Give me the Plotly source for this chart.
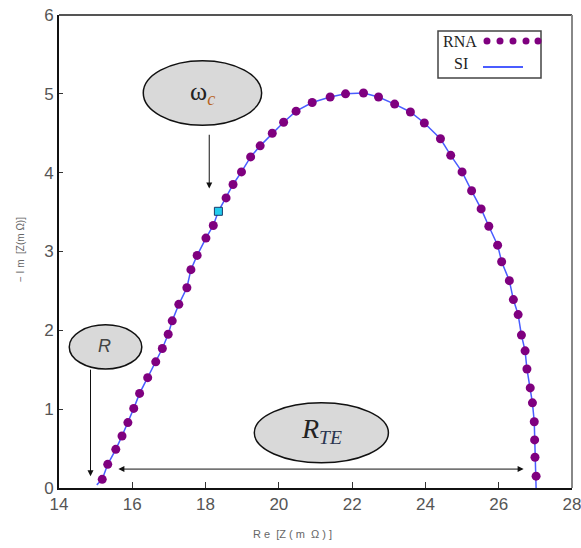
import plotly.graph_objects as go

# ---- data ----
rna_re = [15.18, 15.33, 15.55, 15.72, 15.88, 16.04, 16.20, 16.42, 16.64, 16.82,
          16.98, 17.09, 17.27, 17.49, 17.60, 17.77, 18.01, 18.21, 18.56, 18.75,
          18.98, 19.23, 19.49, 19.82, 20.13, 20.47, 20.91, 21.40, 21.82, 22.31,
          22.72, 23.16, 23.59, 23.97, 24.41, 24.69, 25.00, 25.26, 25.52, 25.73,
          25.97, 26.08, 26.29, 26.40, 26.53, 26.62, 26.72, 26.77, 26.86, 26.92,
          26.97, 26.98, 26.99, 27.02]
rna_im = [0.11, 0.30, 0.49, 0.66, 0.83, 1.01, 1.20, 1.40, 1.60, 1.77,
          1.95, 2.12, 2.33, 2.54, 2.77, 2.95, 3.17, 3.33, 3.68, 3.85,
          4.01, 4.20, 4.34, 4.50, 4.64, 4.78, 4.89, 4.96, 5.00, 5.01,
          4.96, 4.87, 4.77, 4.63, 4.43, 4.22, 4.01, 3.77, 3.54, 3.32,
          3.08, 2.87, 2.63, 2.39, 2.20, 1.94, 1.74, 1.51, 1.27, 1.08,
          0.84, 0.61, 0.39, 0.15]

si_re = [15.03, 15.18, 15.33, 15.55, 15.72, 15.88, 16.04, 16.20, 16.42, 16.64, 16.82,
         16.98, 17.09, 17.27, 17.49, 17.60, 17.77, 18.01, 18.21, 18.35, 18.56, 18.75,
         18.98, 19.23, 19.49, 19.82, 20.13, 20.47, 20.91, 21.40, 21.82, 22.31,
         22.72, 23.16, 23.59, 23.97, 24.41, 24.69, 25.00, 25.26, 25.52, 25.73,
         25.97, 26.08, 26.29, 26.40, 26.53, 26.62, 26.72, 26.77, 26.86, 26.92,
         26.97, 26.98, 26.99, 27.02, 27.02]
si_im = [0.04, 0.11, 0.30, 0.49, 0.66, 0.83, 1.01, 1.20, 1.40, 1.60, 1.77,
         1.95, 2.12, 2.33, 2.54, 2.77, 2.95, 3.17, 3.33, 3.51, 3.68, 3.85,
         4.01, 4.20, 4.34, 4.50, 4.64, 4.78, 4.89, 4.96, 5.00, 5.01,
         4.96, 4.87, 4.77, 4.63, 4.43, 4.22, 4.01, 3.77, 3.54, 3.32,
         3.08, 2.87, 2.63, 2.39, 2.20, 1.94, 1.74, 1.51, 1.27, 1.08,
         0.84, 0.61, 0.39, 0.15, 0.0]

wc_re = [18.35]
wc_im = [3.51]

x_ticks = [14, 16, 18, 20, 22, 24, 26, 28]
y_ticks = [0, 1, 2, 3, 4, 5, 6]

PURPLE = "#7f007f"
BLUE = "#4a5cff"
TICKFONT = dict(family="Liberation Sans Narrow, Liberation Sans, Arial", size=17, color="#555555")

fig = go.Figure()
fig.add_trace(go.Scatter(x=si_re, y=si_im, mode="lines", name="SI",
                         line=dict(color=BLUE, width=1.5), showlegend=False))
fig.add_trace(go.Scatter(x=rna_re, y=rna_im, mode="markers", name="RNA",
                         marker=dict(color=PURPLE, size=9), showlegend=False))
fig.add_trace(go.Scatter(x=wc_re, y=wc_im, mode="markers", name="ωc",
                         marker=dict(color="#22ccee", size=8, symbol="square",
                                     line=dict(color="#1a3a6a", width=1)),
                         showlegend=False))

L, R, T, B = 59, 9, 15, 60
W, H = 581, 548
pw, ph = W - L - R, H - T - B


def px(xp):
    return (xp - L) / pw


def py(yp):
    return (H - B - yp) / ph


shapes = []
# top and right frame lines (grey)
shapes.append(dict(type="line", xref="paper", yref="paper", x0=0, x1=1, y0=1, y1=1,
                   line=dict(color="#555555", width=2)))
shapes.append(dict(type="line", xref="paper", yref="paper", x0=1, x1=1, y0=0, y1=1,
                   line=dict(color="#888888", width=2)))
# ellipses
ell = dict(type="circle", xref="x", yref="y", fillcolor="#d9d9d9",
           line=dict(color="#111111", width=1.5), layer="above")
shapes.append(dict(ell, x0=16.30, x1=19.53, y0=4.60, y1=5.42))
shapes.append(dict(ell, x0=14.28, x1=16.26, y0=1.51, y1=2.07))
shapes.append(dict(ell, x0=19.33, x1=22.99, y0=0.32, y1=1.08))
# legend box
shapes.append(dict(type="rect", xref="paper", yref="paper", x0=px(438), x1=px(541),
                   y0=py(78), y1=py(31), line=dict(color="#444444", width=1.5),
                   fillcolor="white"))
# legend dots
for cx in [487, 500, 513, 526, 538]:
    shapes.append(dict(type="circle", xref="paper", yref="paper",
                       x0=px(cx - 3.5), x1=px(cx + 3.5), y0=py(44.5), y1=py(37.5),
                       fillcolor=PURPLE, line=dict(color=PURPLE, width=0)))
# legend line
shapes.append(dict(type="line", xref="paper", yref="paper", x0=px(483), x1=px(523),
                   y0=py(67), y1=py(67), line=dict(color=BLUE, width=2)))

annotations = []
serif = "Liberation Serif, Times New Roman, serif"
C = dict(xanchor="center", yanchor="middle", showarrow=False)
annotations.append(dict(C, x=px(460), y=py(42), xref="paper", yref="paper", text="RNA",
                        font=dict(family=serif, size=16, color="#222222")))
annotations.append(dict(C, x=px(461), y=py(63), xref="paper", yref="paper", text="SI",
                        font=dict(family=serif, size=16, color="#222222")))
annotations.append(dict(C, x=17.92, y=5.01, xref="x", yref="y",
                        text="ω<sub><i><span style='color:#b8641e'>c</span></i></sub>",
                        font=dict(family=serif, size=26, color="#222222")))
annotations.append(dict(C, x=15.25, y=1.80, xref="x", yref="y", text="<i>R</i>",
                        font=dict(family="Liberation Sans, Arial", size=18,
                                  color="#444444")))
annotations.append(dict(C, x=21.16, y=0.73, xref="x", yref="y",
                        text="<i>R<sub><span style='color:#2a3550'>TE</span></sub></i>",
                        font=dict(family=serif, size=28, color="#222222")))
arrow = dict(xref="x", yref="y", axref="x", ayref="y", showarrow=True, arrowhead=2,
             arrowsize=1.2, arrowwidth=1, arrowcolor="#111111", text="")
annotations.append(dict(arrow, x=18.10, y=3.80, ax=18.10, ay=4.50))
annotations.append(dict(arrow, x=14.86, y=0.15, ax=14.86, ay=1.52))
annotations.append(dict(arrow, x=26.68, y=0.24, ax=15.58, ay=0.24, arrowside="end+start"))
# axis titles
annotations.append(dict(C, x=px(292), y=py(534), xref="paper", yref="paper",
                        text="R e  [Z ( m  Ω ) ]",
                        font=dict(family="Liberation Sans, Arial", size=11, color="#666666")))
annotations.append(dict(C, x=px(21), y=py(250), xref="paper", yref="paper",
                        text="− I m  [Z(m Ω)]", textangle=-90,
                        font=dict(family="Liberation Sans, Arial", size=10, color="#666666")))

fig.update_layout(
    width=W, height=H,
    margin=dict(l=L, r=R, t=T, b=B, pad=0, autoexpand=False),
    paper_bgcolor="white", plot_bgcolor="white",
    shapes=shapes, annotations=annotations,
    showlegend=False,
)
fig.update_xaxes(range=[14, 28], tickvals=x_ticks, ticktext=[str(v) for v in x_ticks],
                 showgrid=False, zeroline=False, showline=True, linecolor="#111111",
                 linewidth=2, ticks="inside", ticklen=6, tickcolor="#333333",
                 tickfont=TICKFONT, ticklabeloverflow="allow", automargin=False)
fig.update_yaxes(range=[0, 6], tickvals=y_ticks, ticktext=[str(v) for v in y_ticks],
                 showgrid=False, zeroline=False, showline=True, linecolor="#111111",
                 linewidth=2, ticks="inside", ticklen=4, tickcolor="#333333",
                 tickfont=TICKFONT, ticklabeloverflow="allow", automargin=False)

fig.write_html("out.html")
